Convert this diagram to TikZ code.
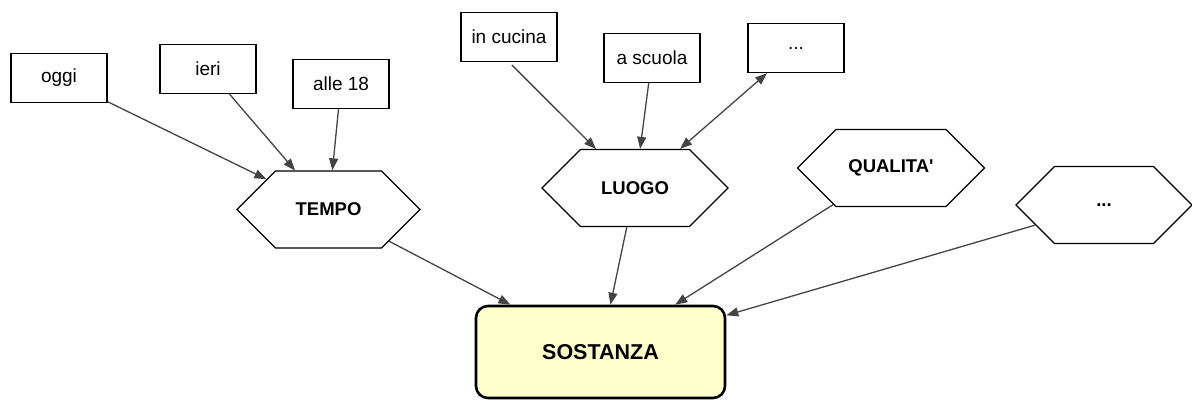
\documentclass[tikz,border=0pt]{standalone}
\usepackage{fontspec}
\setmainfont{Liberation Sans}
\usetikzlibrary{shapes.symbols,arrows.meta}
\definecolor{linegray}{HTML}{444444}
\definecolor{paleyellow}{HTML}{FFFFCC}
\tikzset{
  leaf/.style={draw=black, line width=1.3pt, fill=white, minimum width=96pt, minimum height=49pt, inner sep=0pt, font=\fontsize{19}{22}\selectfont},
  hexa/.style={draw=black, line width=1.3pt, fill=white, shape=signal, signal to=west and east, signal pointer angle=90, minimum width=#1, minimum height=77pt, inner sep=0pt, font=\bfseries\fontsize{18.5}{22}\selectfont},
  core/.style={draw=black, line width=2.6pt, fill=paleyellow, rounded corners=12pt, minimum width=249pt, minimum height=92pt, inner sep=0pt, font=\bfseries\fontsize{21.5}{26}\selectfont},
  conn/.style={draw=linegray, line width=1.3pt, -{Triangle[length=12pt,width=9pt]}},
  bconn/.style={draw=linegray, line width=1.3pt, {Triangle[length=12pt,width=9pt]}-{Triangle[length=12pt,width=9pt]}}
}
\begin{document}
\begin{tikzpicture}[x=1pt,y=-1pt]
\useasboundingbox (0,0) rectangle (1192,401);
\node[leaf] (oggi) at (59,78) {oggi};
\node[leaf] (ieri) at (208,69) {ieri};
\node[leaf] (alle) at (341,84) {alle 18};
\node[leaf] (cucina) at (509,37) {in cucina};
\node[leaf] (scuola) at (652,58) {a scuola};
\node[leaf] (dots) at (796,48) {...};
\node[hexa=183pt] (tempo) at (328.5,209.5) {TEMPO};
\node[hexa=186pt] (luogo) at (635,188) {LUOGO};
\node[hexa=187pt] (qual) at (891,168) {QUALITA\textquotesingle};
\node[hexa=176pt] (hdots) at (1104,205) {...};
\node[core] (sost) at (600.5,352) {SOSTANZA};
\draw[conn] (oggi) -- (tempo);
\draw[conn] (ieri) -- (tempo);
\draw[conn] (alle) -- (tempo);
\draw[conn, shorten <=4pt] (cucina.south) -- (luogo);
\draw[conn] (scuola) -- (luogo);
\draw[bconn] (luogo) -- (dots);
\draw[conn] (tempo) -- (sost);
\draw[conn] (luogo) -- (sost);
\draw[conn] (qual) -- (sost);
\draw[conn] (hdots) -- (sost);
\end{tikzpicture}
\end{document}
